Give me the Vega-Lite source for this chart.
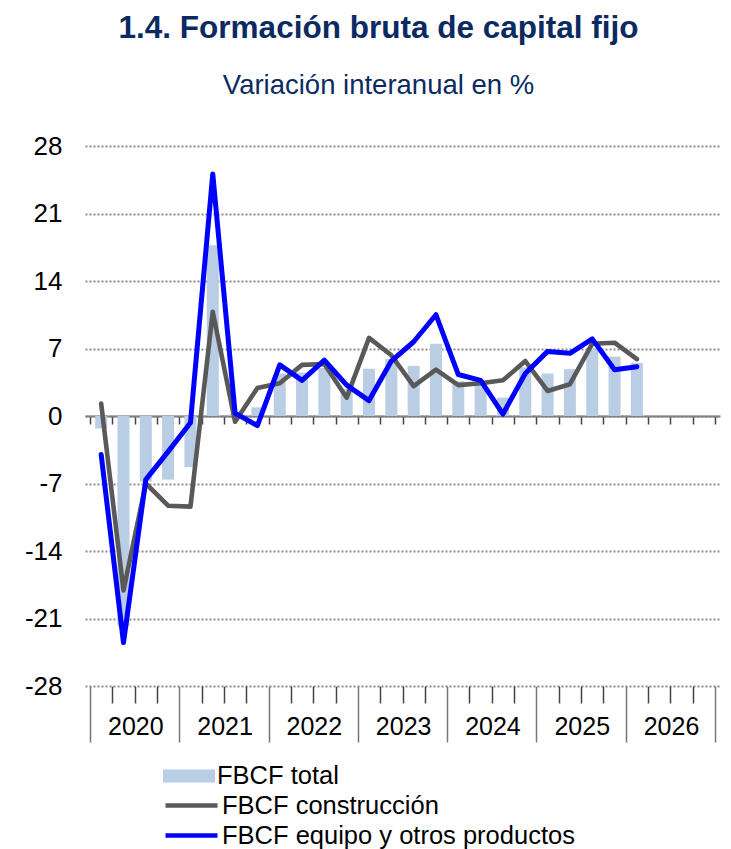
{
  "$schema": "https://vega.github.io/schema/vega-lite/v6.json",
  "width": 635,
  "height": 540,
  "autosize": "none",
  "padding": {"left": 85, "top": 146, "right": 11, "bottom": 163},
  "background": "white",
  "config": {
    "font": "Liberation Sans",
    "view": {"stroke": null},
    "title": {"font": "Liberation Sans", "subtitleFont": "Liberation Sans"}
  },
  "title": {
    "text": "1.4. Formación bruta de capital fijo",
    "subtitle": "Variación interanual en %",
    "fontSize": 31.5,
    "fontWeight": "bold",
    "color": "#0B2A62",
    "subtitleFontSize": 27.5,
    "subtitleColor": "#0B2A62",
    "subtitlePadding": 27,
    "anchor": "middle",
    "dx": -24,
    "offset": 34
  },
  "data": {
    "values": [
      {"periodo": "2020-T1", "t": 2020.125, "total": -1.3, "construccion": 1.3, "equipo": -4.0},
      {"periodo": "2020-T2", "t": 2020.375, "total": -21.8, "construccion": -18.1, "equipo": -23.5},
      {"periodo": "2020-T3", "t": 2020.625, "total": -6.8, "construccion": -7.0, "equipo": -6.6},
      {"periodo": "2020-T4", "t": 2020.875, "total": -6.6, "construccion": -9.3, "equipo": -3.7},
      {"periodo": "2021-T1", "t": 2021.125, "total": -5.3, "construccion": -9.4, "equipo": -0.7},
      {"periodo": "2021-T2", "t": 2021.375, "total": 17.7, "construccion": 10.8, "equipo": 25.1},
      {"periodo": "2021-T3", "t": 2021.625, "total": 0.2, "construccion": -0.6, "equipo": 0.3},
      {"periodo": "2021-T4", "t": 2021.875, "total": 0.9, "construccion": 2.9, "equipo": -1.0},
      {"periodo": "2022-T1", "t": 2022.125, "total": 4.4, "construccion": 3.4, "equipo": 5.3},
      {"periodo": "2022-T2", "t": 2022.375, "total": 4.5, "construccion": 5.3, "equipo": 3.7},
      {"periodo": "2022-T3", "t": 2022.625, "total": 5.0, "construccion": 5.4, "equipo": 5.8},
      {"periodo": "2022-T4", "t": 2022.875, "total": 2.8, "construccion": 1.9, "equipo": 3.2},
      {"periodo": "2023-T1", "t": 2023.125, "total": 4.9, "construccion": 8.1, "equipo": 1.6},
      {"periodo": "2023-T2", "t": 2023.375, "total": 5.9, "construccion": 6.3, "equipo": 5.7},
      {"periodo": "2023-T3", "t": 2023.625, "total": 5.2, "construccion": 3.1, "equipo": 7.7},
      {"periodo": "2023-T4", "t": 2023.875, "total": 7.5, "construccion": 4.8, "equipo": 10.5},
      {"periodo": "2024-T1", "t": 2024.125, "total": 3.6, "construccion": 3.2, "equipo": 4.3},
      {"periodo": "2024-T2", "t": 2024.375, "total": 3.6, "construccion": 3.4, "equipo": 3.7},
      {"periodo": "2024-T3", "t": 2024.625, "total": 1.9, "construccion": 3.7, "equipo": 0.2},
      {"periodo": "2024-T4", "t": 2024.875, "total": 5.05, "construccion": 5.7, "equipo": 4.4},
      {"periodo": "2025-T1", "t": 2025.125, "total": 4.4, "construccion": 2.6, "equipo": 6.7},
      {"periodo": "2025-T2", "t": 2025.375, "total": 4.85, "construccion": 3.3, "equipo": 6.5},
      {"periodo": "2025-T3", "t": 2025.625, "total": 7.0, "construccion": 7.5, "equipo": 8.0},
      {"periodo": "2025-T4", "t": 2025.875, "total": 6.15, "construccion": 7.6, "equipo": 4.8},
      {"periodo": "2026-T1", "t": 2026.125, "total": 5.5, "construccion": 5.9, "equipo": 5.1}
    ]
  },
  "resolve": {"axis": {"x": "independent"}},
  "layer": [
    {
      "mark": {"type": "bar", "size": 12},
      "encoding": {
        "x": {
          "field": "t", "type": "quantitative",
          "scale": {"domain": [2020, 2027], "nice": false, "zero": false},
          "axis": {
            "orient": "bottom",
            "title": null,
            "values": [2020, 2020.25, 2020.5, 2020.75, 2021, 2021.25, 2021.5, 2021.75, 2022, 2022.25, 2022.5, 2022.75, 2023, 2023.25, 2023.5, 2023.75, 2024, 2024.25, 2024.5, 2024.75, 2025, 2025.25, 2025.5, 2025.75, 2026, 2026.25, 2026.5, 2026.75, 2027],
            "domain": false,
            "grid": false,
            "ticks": true,
            "tickSize": {"condition": {"test": "datum.value % 1 === 0", "value": 56}, "value": 17},
            "tickColor": {"condition": {"test": "datum.value % 1 === 0", "value": "#777777"}, "value": "#444444"},
            "tickWidth": 1.5,
            "labelExpr": "datum.value % 1 === 0 && datum.value < 2027 ? toString(datum.value) : ''",
            "labelOffset": 45.3,
            "labelAlign": "center",
            "labelFontSize": 25,
            "labelColor": "#000000",
            "labelPadding": -28,
            "labelFlush": false,
            "labelOverlap": false,
            "labelBound": false
          }
        },
        "y": {
          "field": "total", "type": "quantitative",
          "scale": {"domain": [-28, 28], "nice": false},
          "axis": {
            "title": null,
            "values": [-28, -21, -14, -7, 0, 7, 14, 21, 28],
            "domain": false,
            "ticks": false,
            "grid": true,
            "gridDash": [2, 2],
            "gridColor": "#8c8c8c",
            "gridWidth": 2,
            "labelExpr": "toString(datum.value)",
            "labelFontSize": 26,
            "labelColor": "#000000",
            "labelPadding": 23
          }
        },
        "y2": {"datum": 0},
        "fill": {
          "datum": "FBCF total",
          "scale": {"domain": ["FBCF total"], "range": ["#B9CDE5"]},
          "legend": {
            "title": null,
            "orient": "none",
            "legendX": 91,
            "legendY": 617,
            "padding": 0,
            "symbolType": "M-2,-0.5H2V0.5H-2Z",
            "symbolSize": 676,
            "symbolStrokeWidth": 0,
            "labelFontSize": 25.5,
            "labelColor": "#000000",
            "labelOffset": 15,
            "labelLimit": 0
          }
        }
      }
    },
    {
      "mark": {"type": "line", "strokeWidth": 4.6, "strokeJoin": "round", "strokeCap": "round"},
      "encoding": {
        "x": {
          "field": "t", "type": "quantitative",
          "axis": {
            "orient": "bottom",
            "offset": -270,
            "title": null,
            "values": [2020, 2020.25, 2020.5, 2020.75, 2021, 2021.25, 2021.5, 2021.75, 2022, 2022.25, 2022.5, 2022.75, 2023, 2023.25, 2023.5, 2023.75, 2024, 2024.25, 2024.5, 2024.75, 2025, 2025.25, 2025.5, 2025.75, 2026, 2026.25, 2026.5, 2026.75, 2027],
            "domain": true,
            "domainColor": "#808080",
            "domainWidth": 2,
            "grid": false,
            "ticks": true,
            "tickSize": 8,
            "tickColor": "#444444",
            "tickWidth": 1.5,
            "labels": false
          }
        },
        "y": {"field": "construccion", "type": "quantitative"},
        "stroke": {
          "datum": "FBCF construcción",
          "scale": {"domain": ["FBCF construcción", "FBCF equipo y otros productos"], "range": ["#595959", "#0000FF"]},
          "legend": {
            "title": null,
            "orient": "none",
            "legendX": 91,
            "legendY": 644,
            "padding": 0,
            "rowPadding": 1,
            "symbolType": "M-2,0H2",
            "symbolSize": 676,
            "symbolStrokeWidth": 4.5,
            "labelFontSize": 25.5,
            "labelColor": "#000000",
            "labelOffset": 15,
            "labelLimit": 0
          }
        }
      }
    },
    {
      "mark": {"type": "line", "strokeWidth": 5, "strokeJoin": "round", "strokeCap": "round"},
      "encoding": {
        "x": {"field": "t", "type": "quantitative", "axis": null},
        "y": {"field": "equipo", "type": "quantitative"},
        "stroke": {"datum": "FBCF equipo y otros productos"}
      }
    }
  ]
}
